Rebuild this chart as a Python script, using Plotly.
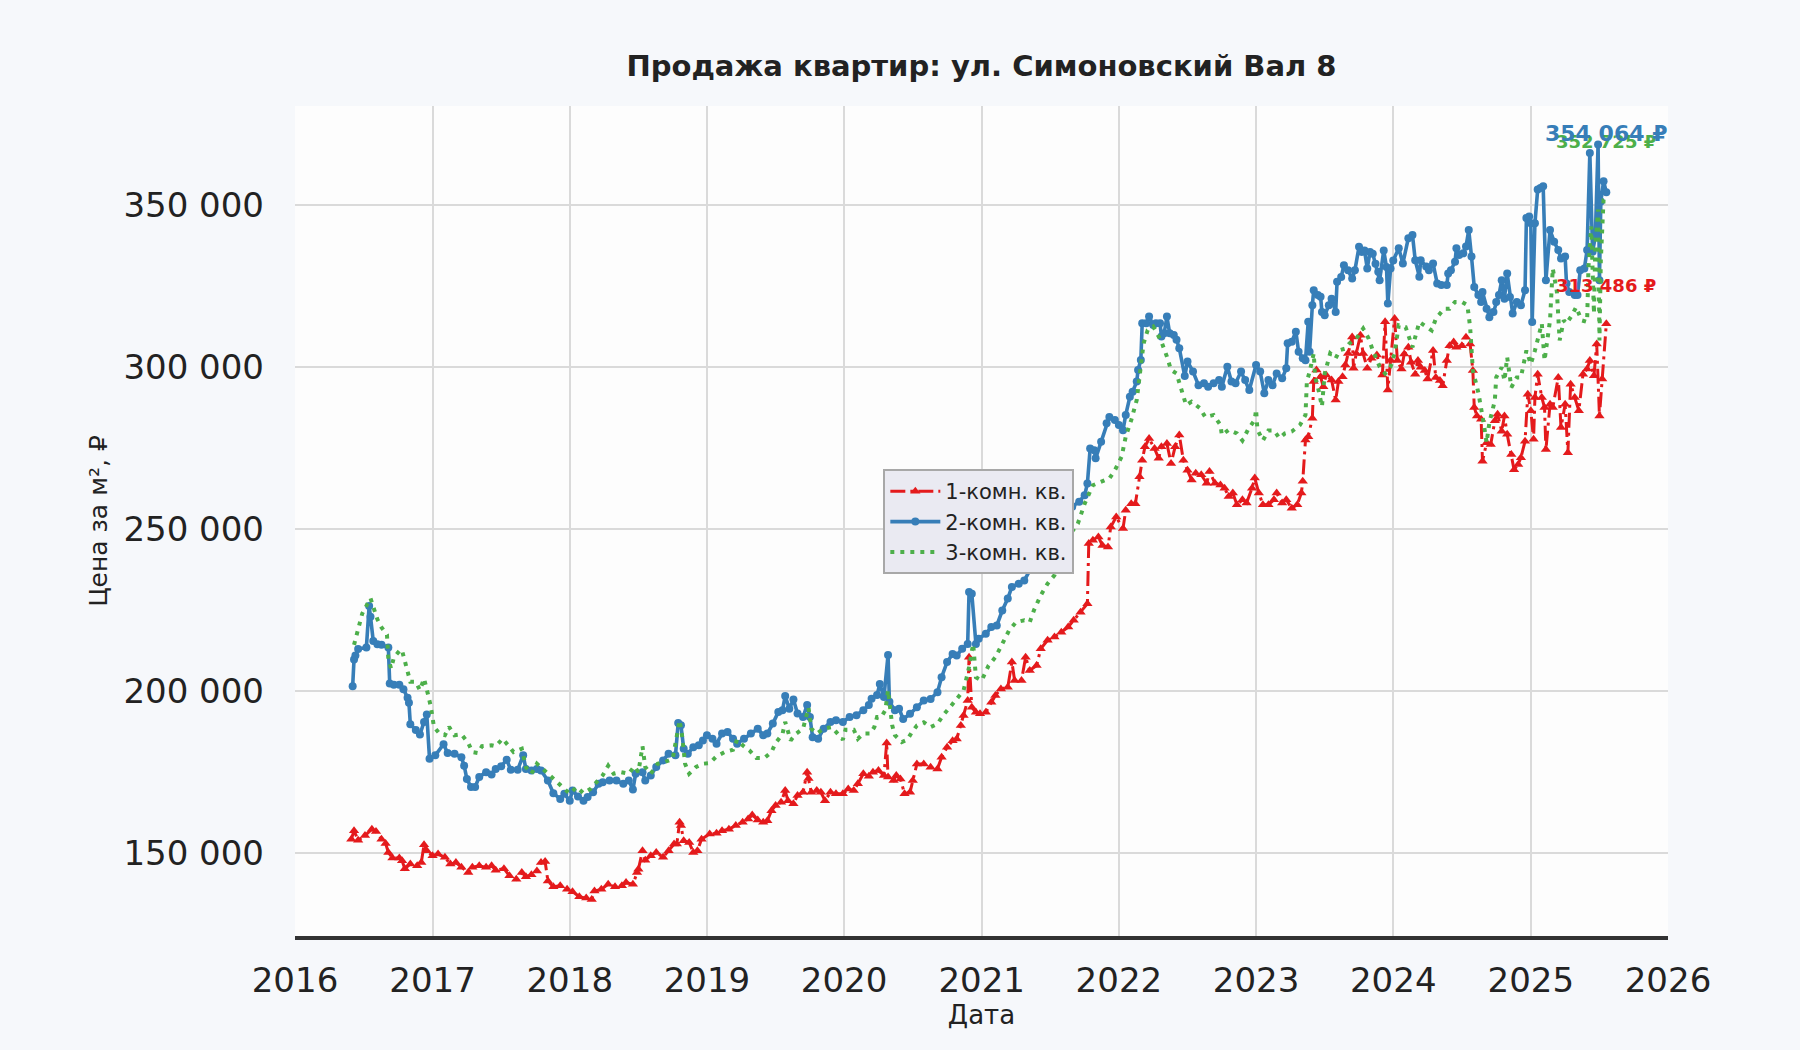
import pandas as pd
import plotly.graph_objects as go

# ---------------- data (decimal year, price per m²) ----------------
red_t = [2016.41, 2016.43, 2016.46, 2016.51, 2016.56, 2016.59, 2016.63, 2016.66, 2016.68, 2016.71,
         2016.76, 2016.78, 2016.80, 2016.84, 2016.89, 2016.92, 2016.94, 2016.96, 2017.00, 2017.04,
         2017.09, 2017.13, 2017.17, 2017.21, 2017.26, 2017.29, 2017.34, 2017.39, 2017.43, 2017.46,
         2017.52, 2017.56, 2017.61, 2017.65, 2017.68, 2017.72, 2017.76, 2017.79, 2017.82, 2017.84,
         2017.88, 2017.93, 2017.98, 2018.02, 2018.07, 2018.12, 2018.16, 2018.18, 2018.23, 2018.28,
         2018.33, 2018.38, 2018.41, 2018.46, 2018.49, 2018.50, 2018.53, 2018.55, 2018.59, 2018.63,
         2018.68, 2018.72, 2018.76, 2018.78, 2018.80, 2018.81, 2018.83, 2018.87, 2018.90, 2018.93,
         2018.96, 2019.02, 2019.07, 2019.11, 2019.16, 2019.21, 2019.26, 2019.30, 2019.33, 2019.37,
         2019.41, 2019.44, 2019.47, 2019.50, 2019.54, 2019.57, 2019.59, 2019.63, 2019.66, 2019.70,
         2019.73, 2019.74, 2019.76, 2019.80, 2019.83, 2019.86, 2019.90, 2019.94, 2019.99, 2020.03,
         2020.07, 2020.10, 2020.14, 2020.18, 2020.21, 2020.25, 2020.29, 2020.31, 2020.32, 2020.36,
         2020.38, 2020.41, 2020.44, 2020.48, 2020.50, 2020.53, 2020.58, 2020.63, 2020.68, 2020.71,
         2020.75, 2020.79, 2020.82, 2020.85, 2020.87, 2020.90, 2020.91, 2020.93, 2020.96, 2020.99,
         2021.03, 2021.07, 2021.10, 2021.14, 2021.19, 2021.22, 2021.24, 2021.29, 2021.32, 2021.35,
         2021.40, 2021.43, 2021.48, 2021.53, 2021.58, 2021.63, 2021.67, 2021.72, 2021.77, 2021.78,
         2021.81, 2021.85, 2021.88, 2021.92, 2021.94, 2021.98, 2022.03, 2022.05, 2022.09, 2022.12,
         2022.15, 2022.17, 2022.19, 2022.22, 2022.26, 2022.29, 2022.31, 2022.35, 2022.38, 2022.41,
         2022.44, 2022.47, 2022.50, 2022.53, 2022.56, 2022.60, 2022.64, 2022.66, 2022.70, 2022.74,
         2022.77, 2022.80, 2022.83, 2022.86, 2022.90, 2022.93, 2022.97, 2022.99, 2023.02, 2023.05,
         2023.09, 2023.13, 2023.15, 2023.19, 2023.22, 2023.26, 2023.30, 2023.33, 2023.34, 2023.36,
         2023.38, 2023.41, 2023.42, 2023.44, 2023.47, 2023.49, 2023.51, 2023.55, 2023.58, 2023.60,
         2023.63, 2023.65, 2023.67, 2023.70, 2023.71, 2023.73, 2023.76, 2023.78, 2023.81, 2023.84,
         2023.88, 2023.92, 2023.94, 2023.96, 2023.98, 2024.01, 2024.03, 2024.06, 2024.08, 2024.11,
         2024.13, 2024.16, 2024.18, 2024.20, 2024.23, 2024.25, 2024.29, 2024.31, 2024.34, 2024.36,
         2024.39, 2024.41, 2024.44, 2024.46, 2024.50, 2024.53, 2024.56, 2024.58, 2024.59, 2024.61,
         2024.64, 2024.65, 2024.68, 2024.71, 2024.74, 2024.76, 2024.79, 2024.81, 2024.83, 2024.86,
         2024.88, 2024.91, 2024.93, 2024.96, 2024.98, 2025.00, 2025.02, 2025.03, 2025.05, 2025.08,
         2025.10, 2025.11, 2025.14, 2025.16, 2025.20, 2025.22, 2025.25, 2025.27, 2025.29, 2025.32,
         2025.35, 2025.38, 2025.41, 2025.43, 2025.46, 2025.48, 2025.50, 2025.52, 2025.55]
red_v = [154300, 156900, 154000, 155400, 157400, 156700, 154300, 153000, 150200, 148500,
         148500, 147600, 145200, 146600, 146100, 147100, 152600, 150700, 149200, 149700,
         148700, 146600, 147100, 145600, 144000, 145600, 146100, 145600, 146100, 144700,
         145200, 143000, 141900, 144000, 142700, 143300, 144500, 147100, 147400, 141400,
         139600, 139900, 138800, 138100, 136500, 136100, 135700, 138300, 138800, 140400,
         139600, 139900, 140900, 140400, 144000, 145000, 150700, 147800, 149200, 150200,
         148700, 150700, 152800, 152800, 159500, 158500, 153800, 153300, 150200, 150700,
         154300, 155900, 156100, 156900, 157400, 158500, 159500, 160500, 161800, 160200,
         159500, 160000, 163100, 164700, 165700, 169300, 166200, 165200, 167800, 168800,
         175000, 173000, 168800, 169300, 168800, 166200, 168800, 168300, 168300, 169800,
         169300, 171400, 174500, 173700, 175000, 175500, 174000, 184000, 173500, 172400,
         174000, 172900, 168300, 168800, 172400, 177500, 177500, 176500, 176000, 179600,
         182700, 184700, 185200, 189400, 192500, 197100, 210500, 195000, 193500, 193000,
         193500, 196600, 198700, 200700, 201200, 209000, 203300, 203300, 210500, 206400,
         207900, 213100, 215700, 216700, 218200, 219800, 221900, 224400, 227000, 245600,
         246600, 247600, 245000, 244500, 250700, 253800, 250200, 255900, 257900, 257900,
         266200, 271300, 275500, 278000, 274900, 271900, 275500, 276500, 270300, 275500,
         279100, 271300, 268200, 265200, 267300, 266800, 264200, 267800, 264200, 263700,
         262700, 260100, 261200, 257600, 259100, 258100, 262700, 265800, 261200, 257600,
         257600, 259100, 261200, 258100, 259100, 256500, 257600, 261200, 264800, 277600,
         278600, 284300, 295600, 299200, 297100, 294000, 297600, 296100, 289900, 295600,
         297100, 300700, 304300, 309400, 299700, 304300, 309900, 304300, 299700, 302800,
         303800, 297600, 314100, 293000, 302200, 315100, 302100, 299500, 304100, 306200,
         301600, 297900, 302100, 300000, 299000, 296400, 305200, 296900, 295900, 294300,
         302100, 306700, 307800, 306200, 306700, 309300, 307200, 299000, 287600, 285000,
         284000, 271000, 276700, 276200, 283500, 285500, 280300, 285000, 279300, 273100,
         268400, 270000, 272100, 277200, 291700, 286600, 277800, 290700, 297900, 290700,
         287600, 274600, 288600, 287600, 296900, 281400, 288600, 273600, 294800, 290700,
         286600, 297900, 299500, 302100, 297400, 307200, 285000, 296400, 313486]

blue_t = [2016.42, 2016.43, 2016.44, 2016.46, 2016.52, 2016.54, 2016.55, 2016.57, 2016.60, 2016.63,
          2016.68, 2016.69, 2016.72, 2016.76, 2016.79, 2016.82, 2016.83, 2016.84, 2016.88, 2016.91,
          2016.94, 2016.96, 2016.98, 2017.02, 2017.08, 2017.11, 2017.16, 2017.21, 2017.23, 2017.25,
          2017.28, 2017.31, 2017.34, 2017.39, 2017.43, 2017.46, 2017.50, 2017.54, 2017.57, 2017.62,
          2017.66, 2017.68, 2017.72, 2017.76, 2017.79, 2017.84, 2017.88, 2017.93, 2017.96, 2018.00,
          2018.02, 2018.06, 2018.10, 2018.13, 2018.17, 2018.21, 2018.24, 2018.29, 2018.34, 2018.39,
          2018.43, 2018.46, 2018.48, 2018.53, 2018.55, 2018.59, 2018.63, 2018.68, 2018.72, 2018.77,
          2018.79, 2018.81, 2018.83, 2018.86, 2018.90, 2018.94, 2018.97, 2019.00, 2019.04, 2019.07,
          2019.11, 2019.15, 2019.19, 2019.22, 2019.27, 2019.32, 2019.37, 2019.41, 2019.44, 2019.48,
          2019.52, 2019.55, 2019.57, 2019.60, 2019.63, 2019.66, 2019.70, 2019.73, 2019.75, 2019.77,
          2019.81, 2019.85, 2019.90, 2019.94, 2019.99, 2020.04, 2020.09, 2020.14, 2020.18, 2020.20,
          2020.24, 2020.26, 2020.29, 2020.32, 2020.33, 2020.37, 2020.40, 2020.43, 2020.48, 2020.53,
          2020.58, 2020.63, 2020.68, 2020.71, 2020.75, 2020.79, 2020.82, 2020.86, 2020.90, 2020.91,
          2020.93, 2020.96, 2020.98, 2021.03, 2021.07, 2021.11, 2021.15, 2021.19, 2021.22, 2021.27,
          2021.31, 2021.36, 2021.42, 2021.48, 2021.54, 2021.60, 2021.66, 2021.71, 2021.75, 2021.77,
          2021.79, 2021.82, 2021.83, 2021.87, 2021.91, 2021.93, 2021.97, 2022.00, 2022.03, 2022.05,
          2022.08, 2022.10, 2022.13, 2022.14, 2022.16, 2022.17, 2022.20, 2022.22, 2022.25, 2022.27,
          2022.30, 2022.31, 2022.33, 2022.35, 2022.37, 2022.40, 2022.42, 2022.44, 2022.48, 2022.50,
          2022.54, 2022.58, 2022.62, 2022.65, 2022.69, 2022.73, 2022.75, 2022.79, 2022.82, 2022.85,
          2022.89, 2022.92, 2022.95, 2023.00, 2023.03, 2023.06, 2023.09, 2023.12, 2023.15, 2023.19,
          2023.22, 2023.23, 2023.26, 2023.29, 2023.31, 2023.34, 2023.36, 2023.38, 2023.39, 2023.41,
          2023.42, 2023.45, 2023.47, 2023.48, 2023.50, 2023.53, 2023.55, 2023.58, 2023.59, 2023.62,
          2023.64, 2023.67, 2023.70, 2023.72, 2023.75, 2023.77, 2023.79, 2023.81, 2023.83, 2023.85,
          2023.87, 2023.89, 2023.90, 2023.93, 2023.95, 2023.96, 2023.98, 2024.00, 2024.04, 2024.07,
          2024.11, 2024.14, 2024.16, 2024.19, 2024.20, 2024.24, 2024.26, 2024.29, 2024.32, 2024.35,
          2024.39, 2024.40, 2024.42, 2024.45, 2024.46, 2024.48, 2024.51, 2024.53, 2024.55, 2024.57,
          2024.59, 2024.62, 2024.64, 2024.65, 2024.68, 2024.70, 2024.73, 2024.75, 2024.77, 2024.79,
          2024.81, 2024.83, 2024.85, 2024.87, 2024.90, 2024.93, 2024.96, 2024.97, 2024.99, 2025.00,
          2025.01, 2025.03, 2025.05, 2025.07, 2025.09, 2025.11, 2025.14, 2025.17, 2025.20, 2025.22,
          2025.25, 2025.26, 2025.28, 2025.32, 2025.34, 2025.36, 2025.39, 2025.41, 2025.43, 2025.45,
          2025.47, 2025.49, 2025.50, 2025.51, 2025.53, 2025.55]
blue_v = [201500, 209800, 211000, 213000, 213500, 226300, 223000, 215500, 214500, 214300,
          213500, 202400, 202000, 202000, 200600, 198000, 196400, 189800, 188000, 186600,
          190500, 192800, 179100, 180200, 183600, 180900, 180700, 179600, 177000, 172900,
          170400, 170400, 173500, 175000, 174300, 176000, 176800, 178800, 175700, 175700,
          180200, 176000, 175500, 176000, 175500, 172400, 168500, 166700, 168300, 166200,
          169300, 167500, 166200, 167300, 168800, 171400, 171900, 172400, 172400, 171400,
          172400, 169600, 174500, 175000, 172400, 174000, 176600, 178600, 180700, 180200,
          190200, 189500, 182200, 180700, 182700, 183300, 184800, 186400, 185300, 183800,
          186900, 187400, 185300, 183800, 185300, 186900, 188400, 186400, 186900, 190000,
          193600, 194100, 198500, 194600, 197400, 193100, 192000, 195700, 192000, 185800,
          185300, 188400, 190500, 191000, 190500, 192000, 192600, 194100, 195700, 197700,
          198800, 202200, 198200, 211200, 196700, 194100, 194600, 191400, 193000, 195000,
          197100, 197600, 199700, 204300, 209000, 211500, 211000, 213100, 214600, 230600,
          230100, 214600, 216200, 217700, 219800, 220300, 224900, 228600, 232200, 233200,
          234200, 238000, 243000, 247000, 250000, 254000, 257000, 258500, 260500, 264100,
          274900, 274400, 271900, 277000, 282700, 284700, 283700, 282200, 280600, 285300,
          290900, 292500, 295600, 299200, 302300, 313600, 313600, 315700, 313100, 313600,
          313600, 309500, 310500, 315700, 310500, 310000, 308500, 305900, 297300, 301800,
          298700, 294500, 295100, 294000, 295100, 296100, 294000, 300200, 295600, 295100,
          298700, 296100, 293000, 300700, 298700, 292000, 296100, 294500, 298100, 296600,
          299700, 307400, 307900, 311000, 304800, 302800, 302200, 314100, 304800, 319200,
          323800, 322300, 321800, 317100, 316100, 319200, 321200, 317100, 326400, 327900,
          331500, 330000, 327400, 330000, 337200, 335600, 336100, 330500, 335600, 335100,
          332000, 329500, 326900, 336100, 331000, 319700, 330500, 333000, 336800, 332100,
          339900, 340900, 333100, 328000, 333100, 331100, 330000, 332100, 325900, 325400,
          325400, 329000, 330000, 332600, 336800, 334700, 335200, 337300, 342400, 334200,
          324800, 322300, 320200, 323300, 318100, 315500, 317100, 320200, 322300, 326900,
          321200, 329000, 321700, 316600, 320200, 319200, 323800, 346100, 346600, 344500,
          314000, 344500, 354900, 355400, 355900, 326900, 342400, 338800, 336200, 333600,
          334200, 325900, 323300, 322300, 322300, 330000, 330500, 336200, 366200, 335700,
          340400, 368800, 326900, 351200, 357500, 354064]

green_t = [2016.43, 2016.45, 2016.47, 2016.49, 2016.55, 2016.58, 2016.60, 2016.63, 2016.67, 2016.68,
           2016.70, 2016.72, 2016.77, 2016.78, 2016.80, 2016.82, 2016.84, 2016.88, 2016.91, 2016.94,
           2016.95, 2016.97, 2016.99, 2017.01, 2017.05, 2017.09, 2017.12, 2017.16, 2017.21, 2017.26,
           2017.29, 2017.33, 2017.36, 2017.43, 2017.46, 2017.51, 2017.55, 2017.59, 2017.65, 2017.68,
           2017.72, 2017.76, 2017.79, 2017.84, 2017.90, 2017.95, 2018.00, 2018.05, 2018.10, 2018.15,
           2018.20, 2018.24, 2018.28, 2018.32, 2018.37, 2018.43, 2018.47, 2018.50, 2018.53, 2018.55,
           2018.59, 2018.64, 2018.69, 2018.75, 2018.80, 2018.82, 2018.84, 2018.87, 2018.92, 2018.97,
           2019.02, 2019.07, 2019.13, 2019.19, 2019.22, 2019.26, 2019.31, 2019.36, 2019.42, 2019.47,
           2019.50, 2019.55, 2019.57, 2019.61, 2019.65, 2019.70, 2019.74, 2019.76, 2019.80, 2019.85,
           2019.91, 2019.96, 2019.99, 2020.01, 2020.07, 2020.10, 2020.14, 2020.19, 2020.22, 2020.24,
           2020.27, 2020.30, 2020.32, 2020.35, 2020.37, 2020.42, 2020.46, 2020.49, 2020.53, 2020.58,
           2020.63, 2020.68, 2020.72, 2020.77, 2020.82, 2020.87, 2020.91, 2020.94, 2020.96, 2021.00,
           2021.05, 2021.10, 2021.15, 2021.20, 2021.25, 2021.31, 2021.35, 2021.38, 2021.43, 2021.48,
           2021.53, 2021.57, 2021.63, 2021.70, 2021.75, 2021.81, 2021.87, 2021.93, 2021.97, 2022.02,
           2022.05, 2022.09, 2022.13, 2022.15, 2022.18, 2022.21, 2022.25, 2022.29, 2022.31, 2022.35,
           2022.38, 2022.42, 2022.46, 2022.49, 2022.53, 2022.59, 2022.63, 2022.69, 2022.74, 2022.75,
           2022.80, 2022.86, 2022.90, 2022.94, 2022.99, 2023.00, 2023.01, 2023.05, 2023.09, 2023.13,
           2023.17, 2023.21, 2023.26, 2023.32, 2023.36, 2023.37, 2023.39, 2023.42, 2023.43, 2023.45,
           2023.48, 2023.50, 2023.54, 2023.58, 2023.61, 2023.65, 2023.68, 2023.73, 2023.78, 2023.82,
           2023.85, 2023.90, 2023.94, 2023.98, 2024.01, 2024.04, 2024.09, 2024.14, 2024.19, 2024.24,
           2024.28, 2024.31, 2024.37, 2024.41, 2024.45, 2024.50, 2024.54, 2024.56, 2024.58, 2024.62,
           2024.65, 2024.66, 2024.68, 2024.70, 2024.74, 2024.75, 2024.79, 2024.81, 2024.83, 2024.86,
           2024.90, 2024.93, 2024.97, 2025.00, 2025.03, 2025.06, 2025.08, 2025.10, 2025.14, 2025.15,
           2025.16, 2025.19, 2025.21, 2025.24, 2025.26, 2025.30, 2025.33, 2025.37, 2025.41, 2025.42,
           2025.44, 2025.46, 2025.47, 2025.49, 2025.50, 2025.51, 2025.53, 2025.55]
green_v = [214300, 217400, 221000, 224000, 228700, 225300, 222200, 219700, 217400, 210000,
           207000, 210400, 212900, 212500, 209100, 206000, 202900, 202900, 200300, 203900,
           202400, 198800, 195100, 189000, 186900, 186400, 189000, 186400, 186700, 184000,
           181200, 180900, 183000, 183300, 183000, 185300, 183300, 181200, 182200, 176500,
           174500, 177600, 176500, 174500, 172400, 170400, 168300, 170400, 168500, 169800,
           172400, 174000, 177000, 174500, 175000, 174500, 176800, 175000, 183000, 176600,
           174500, 177600, 178100, 179100, 191000, 185800, 177600, 174500, 176600, 177600,
           177800, 179900, 181200, 181900, 185000, 183300, 181700, 179400, 179400, 181200,
           184000, 186700, 190500, 184800, 186900, 188400, 194900, 188400, 186900, 188400,
           188900, 186400, 185000, 188100, 188100, 185300, 186900, 186900, 188900, 192000,
           192000, 194100, 200300, 189500, 186400, 184300, 185000, 187100, 189400, 190400,
           188900, 189900, 192500, 195000, 197600, 200200, 207400, 214600, 204300, 203300,
           207900, 210500, 214600, 218800, 221300, 221900, 221300, 224900, 229600, 233200,
           235800, 240400, 247600, 251700, 257900, 263600, 264600, 265700, 268200, 272400,
           278600, 283700, 289900, 296100, 307400, 311500, 312600, 309500, 307900, 303300,
           299200, 298100, 293000, 288300, 289400, 287400, 284600, 285300, 282200, 279100,
           280700, 279600, 277400, 280700, 283800, 287000, 280700, 277400, 280500, 280500,
           278100, 279600, 280200, 282200, 285300, 295600, 298600, 304300, 297100, 294000,
           287900, 298100, 304300, 302800, 305300, 305800, 307400, 308900, 312000, 308900,
           305300, 300200, 298100, 300200, 304300, 313000, 312400, 306200, 314000, 312400,
           311400, 315000, 318100, 318100, 320200, 320200, 319200, 312400, 299000, 292200,
           285500, 282400, 276700, 282900, 289700, 296900, 300000, 295900, 303100, 293800,
           296900, 296900, 305200, 301000, 305200, 310400, 313500, 302100, 314500, 322800,
           330500, 323300, 308300, 314500, 313500, 316100, 318600, 314500, 314000, 331000,
           343500, 316600, 337300, 348700, 308300, 333100, 351800, 352725]

series_names = ["1-комн. кв.", "2-комн. кв.", "3-комн. кв."]
series_colors = ["#e41a1c", "#377eb8", "#4daf4a"]
label_texts = ["313 486 ₽", "354 064 ₽", "352 725 ₽"]

title_text = "Продажа квартир: ул. Симоновский Вал 8"
x_title = "Дата"
y_title = "Цена за м², ₽"


def to_dates(ts):
    out = []
    for t in ts:
        y = int(t)
        out.append(pd.Timestamp(f"{y}-01-01") + pd.Timedelta(days=(t - y) * 365.25))
    return out


FONT = "DejaVu Sans"
fig = go.Figure()

fig.add_trace(go.Scatter(
    x=to_dates(red_t), y=red_v, name=series_names[0], mode="lines+markers",
    line=dict(color=series_colors[0], width=3, dash="15px,5px,3px,5px"),
    marker=dict(symbol="triangle-up", size=9, color=series_colors[0]),
))
fig.add_trace(go.Scatter(
    x=to_dates(blue_t), y=blue_v, name=series_names[1], mode="lines+markers",
    line=dict(color=series_colors[1], width=3.6),
    marker=dict(symbol="circle", size=8, color=series_colors[1]),
))
fig.add_trace(go.Scatter(
    x=to_dates(green_t), y=green_v, name=series_names[2], mode="lines",
    line=dict(color=series_colors[2], width=4, dash="4px,6px"),
))

# last-value labels
last_pts = [(to_dates(red_t)[-1], red_v[-1], 38, 18),
            (to_dates(blue_t)[-1], blue_v[-1], 59, 22),
            (to_dates(green_t)[-1], green_v[-1], 55, 18)]
for i in [0, 2, 1]:
    xd, yv, ys, fs = last_pts[i]
    fig.add_annotation(x=xd, y=yv, text=f"<b>{label_texts[i]}</b>", showarrow=False,
                       xanchor="center", yanchor="middle", yshift=ys,
                       font=dict(family=FONT, size=fs, color=series_colors[i]))

fig.update_layout(
    width=1800, height=1050,
    paper_bgcolor="#f6f8fb", plot_bgcolor="#fdfdfd",
    margin=dict(l=295, r=132, t=106, b=114, autoexpand=False),
    font=dict(family=FONT, color="#222222"),
    title=dict(text=f"<b>{title_text}</b>", x=0.5, xref="paper", xanchor="center",
               y=1 - 66 / 1050, yref="container", yanchor="middle",
               font=dict(family=FONT, size=29, color="#222222")),
    legend=dict(x=0.4285, y=0.5625, xanchor="left", yanchor="top",
                bgcolor="#eaeaf2", bordercolor="#a8a8a8", borderwidth=2,
                font=dict(family=FONT, size=21, color="#222222"),
                itemwidth=50, tracegroupgap=0),
    showlegend=True,
)
fig.update_xaxes(
    type="date", range=["2016-01-01", "2026-01-01"], dtick="M12", tickformat="%Y",
    tick0="2016-01-01",
    showgrid=True, gridcolor="#dadada", gridwidth=2,
    showline=True, linecolor="#333333", linewidth=3.5,
    ticks="", ticklabelstandoff=11,
    tickfont=dict(family=FONT, size=34, color="#222222"),
    title=dict(text=x_title, standoff=8, font=dict(family=FONT, size=26, color="#222222")),
    zeroline=False,
)
fig.update_yaxes(
    range=[124400, 380700], tickvals=[150000, 200000, 250000, 300000, 350000],
    ticktext=["150 000", "200 000", "250 000", "300 000", "350 000"],
    showgrid=True, gridcolor="#dadada", gridwidth=2,
    showline=False, ticks="", ticklabelstandoff=30,
    tickfont=dict(family=FONT, size=34, color="#222222"),
    title=dict(text=y_title, standoff=8, font=dict(family=FONT, size=25, color="#222222")),
    zeroline=False,
)

fig.write_html("out.html", config={"displayModeBar": False},
               post_script="document.body.style.margin='0';document.body.style.background='#f6f8fb';")
